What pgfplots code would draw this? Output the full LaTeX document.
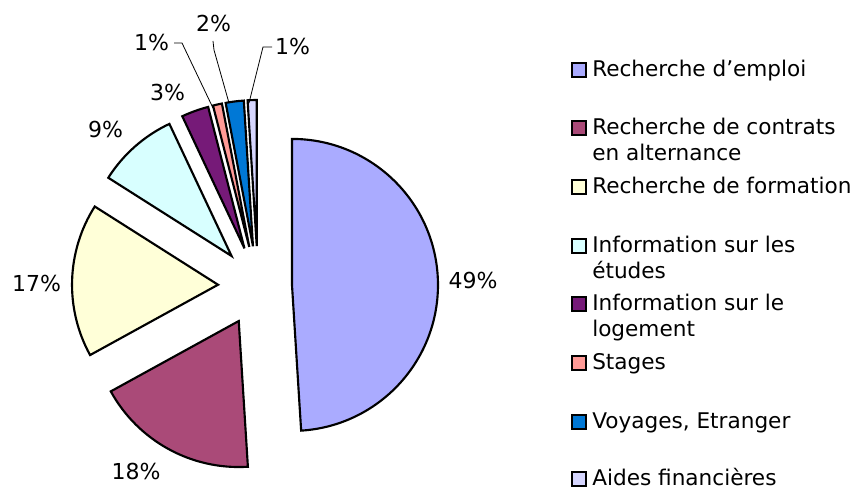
\documentclass[border=0pt]{standalone}
\usepackage{pgfplots}
\pgfplotsset{compat=1.18}
\usepackage{fontspec}
\setmainfont{DejaVu Sans}
\definecolor{c1}{HTML}{AAABFF}
\definecolor{c2}{HTML}{AA4A78}
\definecolor{c3}{HTML}{FFFFD8}
\definecolor{c4}{HTML}{D8FFFF}
\definecolor{c5}{HTML}{761A78}
\definecolor{c6}{HTML}{FF9A96}
\definecolor{c7}{HTML}{0078D6}
\definecolor{c8}{HTML}{D6D6FF}
% #1 start (%), #2 value (%), #3 colour, #4 explode (px)
\newcommand{\slice}[4]{%
  \filldraw[fill=#3,draw=black,line width=1.6pt,line join=miter]
    (axis cs:{258+#4*cos(90-3.6*(#1+#2/2))},{205+#4*sin(90-3.6*(#1+#2/2))})
    -- (axis cs:{258+#4*cos(90-3.6*(#1+#2/2))+146*cos(90-3.6*#1)},{205+#4*sin(90-3.6*(#1+#2/2))+146*sin(90-3.6*#1)})
    arc[start angle={90-3.6*#1}, end angle={90-3.6*(#1+#2)}, radius=109.5pt]
    -- cycle;}
% legend entry: #1 colour, #2 baseline y (px from top), #3 text
\newcommand{\legsq}[2]{%
  \filldraw[fill=#1,draw=black,line width=1.2pt]
    (axis cs:572,{491-#2}) rectangle (axis cs:586,{491-#2+14});}
\newcommand{\legtxt}[2]{%
  \node[anchor=base west,inner sep=0pt,font=\fontsize{16.2pt}{19pt}\selectfont] at (axis cs:592,{491-#1}) {#2};}
\newcommand{\plab}[3]{%
  \node[anchor=center,inner sep=0pt,font=\fontsize{16.5pt}{19pt}\selectfont] at (axis cs:#1,{491-#2}) {#3};}
\begin{document}
\begin{tikzpicture}
\begin{axis}[
  x=0.75pt, y=0.75pt, scale only axis,
  xmin=0, xmax=858, ymin=0, ymax=491,
  hide axis, clip=false]
\path (axis cs:0,0) rectangle (axis cs:858,491);
\slice{0}{49}{c1}{34}
\slice{49}{18}{c2}{40}
\slice{67}{17}{c3}{40}
\slice{84}{9}{c4}{40}
\slice{93}{3}{c5}{40}
\slice{96}{1}{c6}{40}
\slice{97}{2}{c7}{40}
\slice{99}{1}{c8}{40}
% leader lines
\draw[black,line width=0.6pt] (axis cs:174,{491-43}) -- (axis cs:182,{491-43}) -- (axis cs:213,{491-108});
\draw[black,line width=0.6pt] (axis cs:213,{491-41}) -- (axis cs:214,{491-50}) -- (axis cs:229,{491-103});
\draw[black,line width=0.6pt] (axis cs:272,{491-47}) -- (axis cs:263,{491-47}) -- (axis cs:249,{491-103});
% percentage labels
\plab{473}{281}{49\%}
\plab{136}{472}{18\%}
\plab{36.5}{283.5}{17\%}
\plab{105.5}{129.5}{9\%}
\plab{167.5}{92.5}{3\%}
\plab{151.5}{42.5}{1\%}
\plab{213.5}{23.5}{2\%}
\plab{292.5}{46.5}{1\%}
% legend
\legsq{c1}{77}\legtxt{77}{Recherche d’emploi}
\legsq{c2}{135}\legtxt{135}{Recherche de contrats}\legtxt{161}{en alternance}
\legsq{c3}{194}\legtxt{194}{Recherche de formation}
\legsq{c4}{253}\legtxt{253}{Information sur les}\legtxt{279}{études}
\legsq{c5}{311}\legtxt{311}{Information sur le}\legtxt{337}{logement}
\legsq{c6}{370}\legtxt{370}{Stages}
\legsq{c7}{429}\legtxt{429}{Voyages, Etranger}
\legsq{c8}{486}\legtxt{486}{Aides financières}
\end{axis}
\end{tikzpicture}
\end{document}
